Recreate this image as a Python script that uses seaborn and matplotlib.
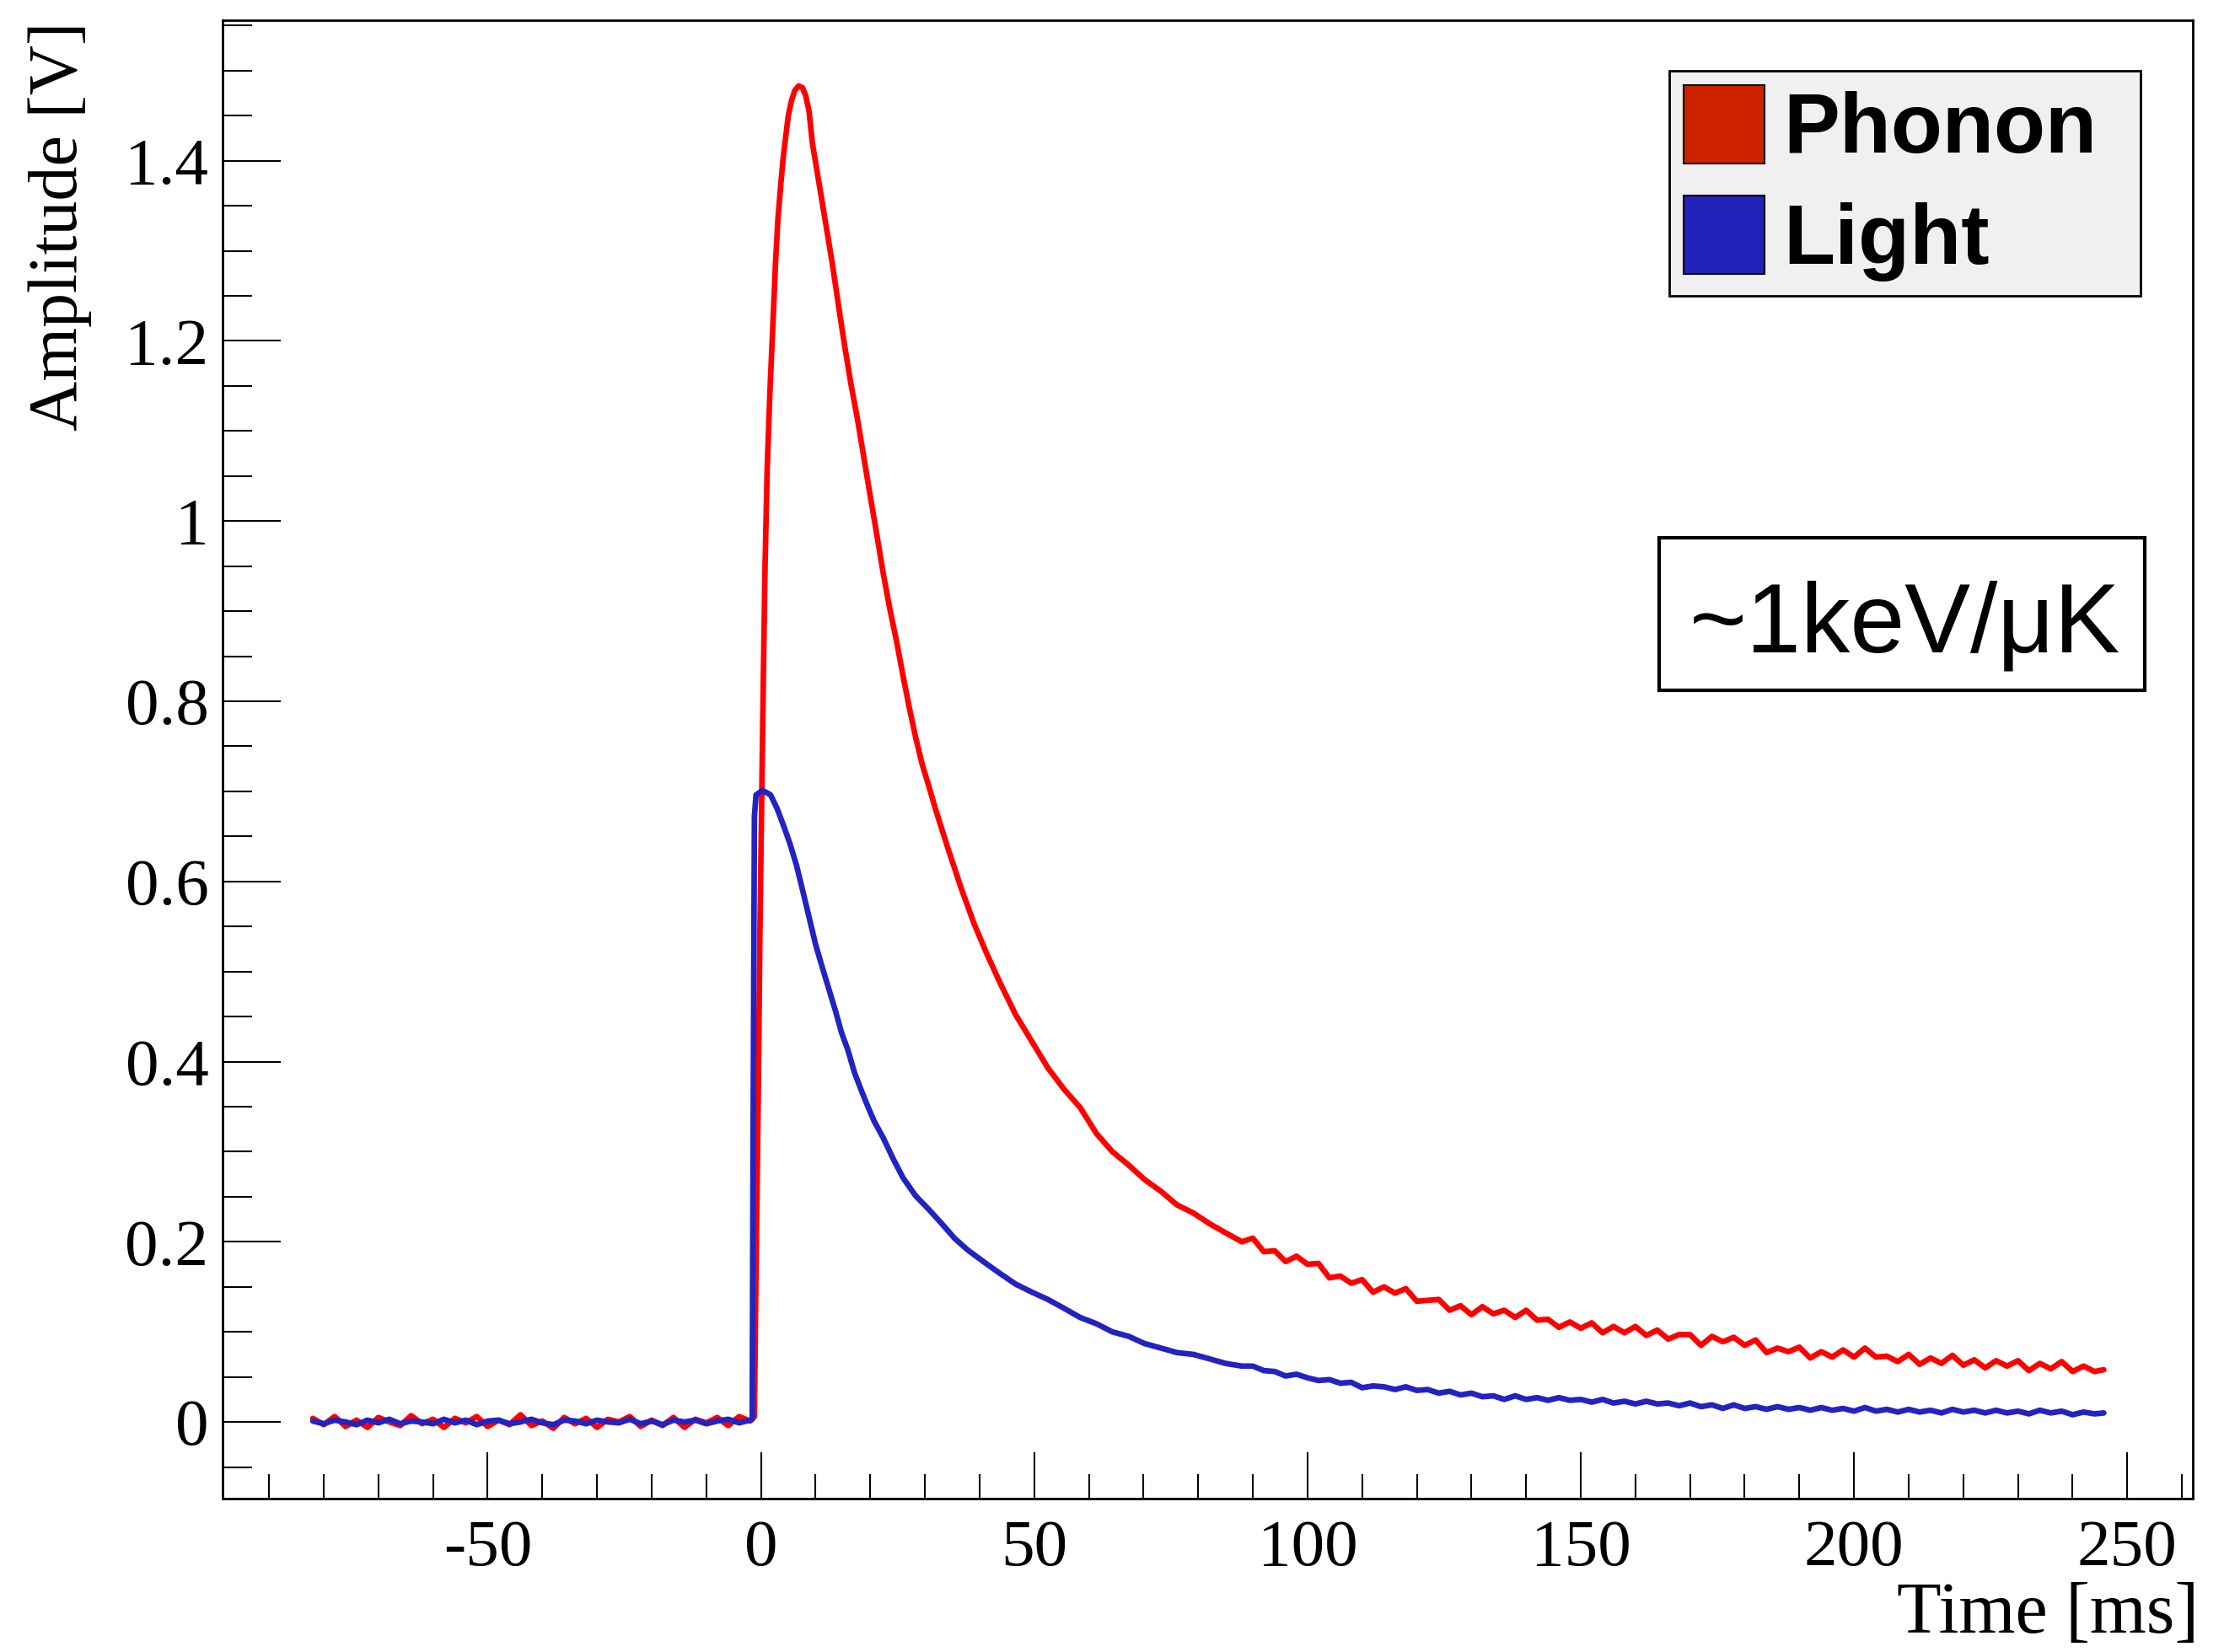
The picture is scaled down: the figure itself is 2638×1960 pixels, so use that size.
import numpy as np
import pandas as pd
import matplotlib
matplotlib.use("Agg")
import matplotlib.pyplot as plt
from matplotlib.patches import Patch, Rectangle
from matplotlib.ticker import MultipleLocator
import seaborn as sns

# ---------------------------------------------------------------- data
# pre-trigger baseline, sampled every 2 ms from -82 to -2 ms
baseline_time = np.arange(-82, -1, 2)
phonon_baseline = [0.004, -0.003, 0.006, -0.005, 0.002, -0.006, 0.005, 0.000, -0.004, 0.007,
                   -0.002, 0.003, -0.006, 0.004, -0.001, 0.006, -0.005, 0.002, -0.003, 0.008,
                   -0.004, 0.001, -0.007, 0.005, -0.002, 0.004, -0.006, 0.003, 0.000, 0.006,
                   -0.005, 0.002, -0.004, 0.005, -0.006, 0.003, -0.001, 0.005, -0.004, 0.006,
                   0.001]
light_baseline = [0.001, -0.002, 0.002, 0.000, -0.003, 0.002, -0.001, 0.003, -0.002, 0.001,
                  0.000, -0.002, 0.003, -0.001, 0.002, -0.003, 0.001, 0.002, -0.002, 0.000,
                  0.003, -0.001, -0.003, 0.002, 0.001, -0.002, 0.002, 0.000, -0.001, 0.003,
                  -0.002, 0.001, -0.003, 0.002, 0.000, 0.002, -0.002, 0.001, 0.003, -0.001,
                  0.002]

# pulse region
phonon_pulse_time = [-1.2, -0.9, -0.5, -0.2, 0.15, 0.45, 0.75, 1.15, 1.65, 2.2,
                     2.65, 3.1, 3.65, 4.1, 4.6, 5.0, 5.6, 6.2, 6.9, 7.6,
                     8.2, 8.8, 9.4, 10.6, 11.8, 13.0, 14.2, 15.3, 16.5, 17.7,
                     18.9, 20.1, 21.2, 22.4, 23.6, 24.8, 26.0, 27.1, 28.3, 29.5,
                     30.7, 31.9, 34.2, 36.6, 39.0, 41.3, 43.7, 46.6, 49.6, 52.5,
                     55.5, 58.4, 61.4, 64.3, 67.3, 70.2, 73.2, 76.1, 79.1, 82.1,
                     85.0, 88.0]
phonon_pulse = [0.006, 0.17, 0.36, 0.54, 0.70, 0.83, 0.95, 1.06, 1.145, 1.22,
                1.285, 1.335, 1.375, 1.405, 1.43, 1.45, 1.467, 1.478, 1.483, 1.481,
                1.472, 1.455, 1.420, 1.376, 1.332, 1.288, 1.239, 1.195, 1.151, 1.112,
                1.068, 1.024, 0.985, 0.941, 0.902, 0.867, 0.828, 0.794, 0.760, 0.730,
                0.706, 0.681, 0.637, 0.593, 0.553, 0.520, 0.488, 0.452, 0.422, 0.393,
                0.369, 0.349, 0.320, 0.300, 0.285, 0.269, 0.256, 0.241, 0.232, 0.220,
                0.210, 0.200]

light_pulse_time = [-1.6, -1.45, -1.2, -0.9, 0.3, 1.76, 2.95, 4.13, 5.3, 6.5,
                    7.67, 8.85, 10.0, 11.2, 12.4, 13.6, 14.75, 15.9, 17.1, 18.3,
                    19.5, 20.7, 22.4, 24.2, 26.0, 28.3, 30.7, 33.1, 35.4, 37.8,
                    40.7, 43.7, 46.6, 49.6, 52.5, 55.5, 58.4, 61.4, 64.3, 67.3,
                    70.2, 73.2, 76.1, 79.1, 82.1, 85.0, 88.0]
light_pulse = [0.003, 0.29, 0.672, 0.696, 0.701, 0.696, 0.681, 0.662, 0.642, 0.618,
               0.589, 0.559, 0.530, 0.505, 0.481, 0.457, 0.432, 0.413, 0.388, 0.369,
               0.351, 0.334, 0.315, 0.292, 0.271, 0.251, 0.236, 0.220, 0.204, 0.191,
               0.178, 0.165, 0.153, 0.144, 0.136, 0.126, 0.116, 0.109, 0.100, 0.095,
               0.087, 0.082, 0.077, 0.075, 0.070, 0.065, 0.062]

# slow tail, sampled every 2 ms from 90 to 244 ms, plus the last sample
tail_time = np.arange(90, 245, 2)
end_time = 245.7
phonon_tail = [0.204, 0.189, 0.190, 0.178, 0.184, 0.175, 0.176, 0.160, 0.162, 0.154,
               0.158, 0.144, 0.150, 0.143, 0.148, 0.134, 0.135, 0.136, 0.124, 0.129,
               0.119, 0.128, 0.120, 0.124, 0.116, 0.124, 0.113, 0.114, 0.105, 0.111,
               0.104, 0.110, 0.099, 0.106, 0.099, 0.106, 0.096, 0.102, 0.092, 0.097,
               0.097, 0.085, 0.095, 0.089, 0.094, 0.085, 0.091, 0.077, 0.082, 0.078,
               0.083, 0.071, 0.078, 0.072, 0.080, 0.072, 0.082, 0.072, 0.073, 0.067,
               0.075, 0.064, 0.071, 0.065, 0.074, 0.063, 0.069, 0.060, 0.068, 0.062,
               0.068, 0.057, 0.065, 0.059, 0.067, 0.056, 0.062, 0.056]
phonon_end = 0.058
light_tail = [0.062, 0.057, 0.056, 0.051, 0.053, 0.049, 0.046, 0.047, 0.043, 0.044,
              0.038, 0.040, 0.039, 0.036, 0.039, 0.035, 0.036, 0.032, 0.034, 0.030,
              0.032, 0.028, 0.029, 0.025, 0.029, 0.025, 0.027, 0.024, 0.027, 0.024,
              0.025, 0.022, 0.025, 0.021, 0.023, 0.020, 0.023, 0.020, 0.021, 0.018,
              0.021, 0.017, 0.019, 0.015, 0.019, 0.015, 0.017, 0.014, 0.017, 0.014,
              0.016, 0.013, 0.016, 0.013, 0.015, 0.012, 0.016, 0.012, 0.014, 0.011,
              0.014, 0.011, 0.013, 0.010, 0.014, 0.011, 0.013, 0.010, 0.013, 0.010,
              0.012, 0.009, 0.013, 0.010, 0.012, 0.008, 0.011, 0.009]
light_end = 0.010

series_names = ["Phonon", "Light"]
x_ticks = [-50, 0, 50, 100, 150, 200, 250]
x_tick_labels = ["-50", "0", "50", "100", "150", "200", "250"]
y_ticks = [0, 0.2, 0.4, 0.6, 0.8, 1.0, 1.2, 1.4]
y_tick_labels = ["0", "0.2", "0.4", "0.6", "0.8", "1", "1.2", "1.4"]
annotation = "~1keV/μK"


def trace(name, t_base, v_base, t_pulse, v_pulse, t_tail, v_tail, t_end, v_end):
    t = np.concatenate([t_base, t_pulse, t_tail, [t_end]])
    v = np.concatenate([v_base, v_pulse, v_tail, [v_end]])
    return pd.DataFrame({"time": t, "amplitude": v, "signal": name})


df = pd.concat([
    trace("Phonon", baseline_time, phonon_baseline, phonon_pulse_time, phonon_pulse,
          tail_time, phonon_tail, end_time, phonon_end),
    trace("Light", baseline_time, light_baseline, light_pulse_time, light_pulse,
          tail_time, light_tail, end_time, light_end),
], ignore_index=True)

# ---------------------------------------------------------------- style
sns.set_style("ticks")
plt.rcParams["font.family"] = ["Liberation Serif", "DejaVu Serif"]
plt.rcParams["axes.unicode_minus"] = False
for key in ("text.color", "axes.labelcolor", "xtick.color", "ytick.color",
            "axes.edgecolor"):
    plt.rcParams[key] = "black"

line_colors = {"Phonon": "#ff0000", "Light": "#2323c2"}
patch_colors = {"Phonon": "#cc2200", "Light": "#2222bb"}

fig, ax = plt.subplots(figsize=(26.38, 19.6), dpi=100)
fig.subplots_adjust(left=0.1001, right=0.986, bottom=0.0929, top=0.9878)

sns.lineplot(data=df, x="time", y="amplitude", hue="signal", hue_order=series_names,
             palette=line_colors, estimator=None, sort=False, linewidth=4.8,
             legend=False, ax=ax)

ax.set_xlim(-98.5, 262)
ax.set_ylim(-0.085, 1.556)
ax.set_xticks(x_ticks)
ax.set_xticklabels(x_tick_labels)
ax.set_yticks(y_ticks)
ax.set_yticklabels(y_tick_labels)
ax.xaxis.set_minor_locator(MultipleLocator(10))
ax.yaxis.set_minor_locator(MultipleLocator(0.05))

ax.tick_params(axis="x", which="major", direction="in", length=39.6, width=1.5,
               pad=18, labelsize=57)
ax.tick_params(axis="x", which="minor", direction="in", length=21, width=1.5)
ax.tick_params(axis="y", which="major", direction="in", length=50, width=1.5,
               pad=12, labelsize=57)
ax.tick_params(axis="y", which="minor", direction="in", length=25, width=1.5)
ax.tick_params(which="both", top=False, right=False)
for sp in ax.spines.values():
    sp.set_linewidth(2)
    sp.set_color("black")

ax.set_xlabel("Time [ms]", fontsize=62)
ax.xaxis.label.set_ha("right")
ax.xaxis.set_label_coords(1.003, -0.056)
ax.set_ylabel("Amplitude [V]", fontsize=59)
ax.yaxis.label.set_ha("right")
ax.yaxis.label.set_va("center")
ax.yaxis.set_label_coords(-0.0826, 0.999)

# legend with filled boxes
handles = [Patch(facecolor=patch_colors[n], edgecolor="black", linewidth=1.5, label=n)
           for n in series_names]
leg = ax.legend(handles=handles, loc="upper left", mode="expand",
                bbox_to_anchor=(0.7343, 0.817, 0.2392, 0.1488), borderaxespad=0,
                prop={"family": "Liberation Sans", "weight": "bold", "size": 72},
                handlelength=0.96, handleheight=1.05, handletextpad=0.22,
                labelspacing=0.3, borderpad=0.17, fancybox=False, framealpha=1,
                facecolor="#f0f0f0", edgecolor="black")
leg.get_frame().set_linewidth(2)
for txt in leg.get_texts():
    txt.set_color("black")

# sensitivity box
ax.add_patch(Rectangle((0.7291, 0.5468), 0.2465, 0.1032, transform=ax.transAxes,
                       facecolor="white", edgecolor="black", linewidth=3, zorder=5))
ax.text(0.8537, 0.5724, annotation, transform=ax.transAxes, ha="center",
        va="baseline", fontsize=84, color="black",
        family=["Liberation Sans", "DejaVu Sans"], zorder=6)

fig.savefig("out.png", dpi=100, facecolor="white")
